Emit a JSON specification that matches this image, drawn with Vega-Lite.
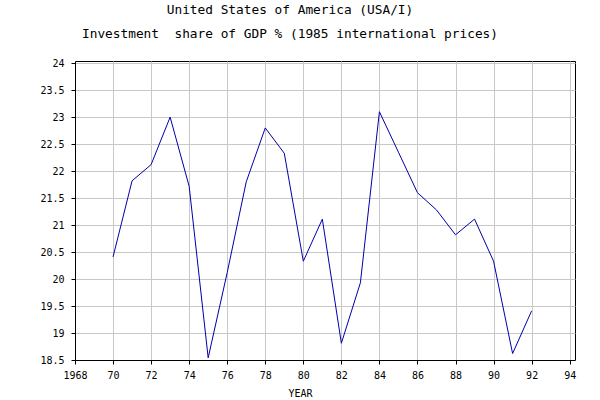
{
  "$schema": "https://vega.github.io/schema/vega-lite/v6.json",
  "width": 500,
  "height": 299,
  "autosize": {"type": "none"},
  "padding": {"left": 75, "top": 61, "right": 25, "bottom": 40},
  "background": "white",
  "title": {
    "text": ["United States of America (USA/I)", "Investment\u00a0 share of GDP % (1985 international prices)"],
    "font": "DejaVu Sans Mono",
    "fontSize": 12.8,
    "fontWeight": "normal",
    "color": "black",
    "anchor": "middle",
    "frame": "group",
    "dx": -35,
    "lineHeight": 24.5,
    "baseline": "alphabetic",
    "offset": 7
  },
  "data": {
    "values": [
      {"year": 1970, "value": 20.41},
      {"year": 1971, "value": 21.82},
      {"year": 1972, "value": 22.12},
      {"year": 1973, "value": 23.0},
      {"year": 1974, "value": 21.72},
      {"year": 1975, "value": 18.54},
      {"year": 1976, "value": 20.12},
      {"year": 1977, "value": 21.8},
      {"year": 1978, "value": 22.8},
      {"year": 1979, "value": 22.33},
      {"year": 1980, "value": 20.33},
      {"year": 1981, "value": 21.11},
      {"year": 1982, "value": 18.81},
      {"year": 1983, "value": 19.93},
      {"year": 1984, "value": 23.1},
      {"year": 1985, "value": 22.35},
      {"year": 1986, "value": 21.6},
      {"year": 1987, "value": 21.28},
      {"year": 1988, "value": 20.82},
      {"year": 1989, "value": 21.11},
      {"year": 1990, "value": 20.33},
      {"year": 1991, "value": 18.62},
      {"year": 1992, "value": 19.41}
    ]
  },
  "mark": {"type": "line", "color": "#0000aa", "strokeWidth": 1, "clip": true},
  "encoding": {
    "x": {
      "field": "year",
      "type": "quantitative",
      "scale": {"domain": [1968, 1994.28], "nice": false, "zero": false},
      "axis": {
        "values": [1968, 1970, 1972, 1974, 1976, 1978, 1980, 1982, 1984, 1986, 1988, 1990, 1992, 1994],
        "labelExpr": "datum.value == 1968 ? '1968' : toString(datum.value - 1900)",
        "title": "YEAR",
        "titleX": 225,
        "titleY": 36,
        "titleBaseline": "alphabetic",
        "titleAlign": "center",
        "titleAnchor": null
      }
    },
    "y": {
      "field": "value",
      "type": "quantitative",
      "scale": {"domain": [18.5, 24.04], "nice": false, "zero": false},
      "axis": {
        "values": [18.5, 19, 19.5, 20, 20.5, 21, 21.5, 22, 22.5, 23, 23.5, 24],
        "format": ".1~f",
        "title": null
      }
    }
  },
  "config": {
    "view": {"stroke": "black", "strokeWidth": 1},
    "axis": {
      "domainColor": "black",
      "tickColor": "black",
      "tickSize": 4,
      "labelColor": "black",
      "labelFont": "DejaVu Sans Mono",
      "labelFontSize": 10,
      "labelPadding": 6,
      "labelOverlap": false,
      "labelFlush": false,
      "titleFont": "DejaVu Sans Mono",
      "titleFontSize": 10,
      "titleFontWeight": "normal",
      "titleColor": "black",
      "gridColor": "#c8c8c8",
      "gridOpacity": 1,
      "gridWidth": 1
    },
    "axisY": {"labelPadding": 7}
  }
}
